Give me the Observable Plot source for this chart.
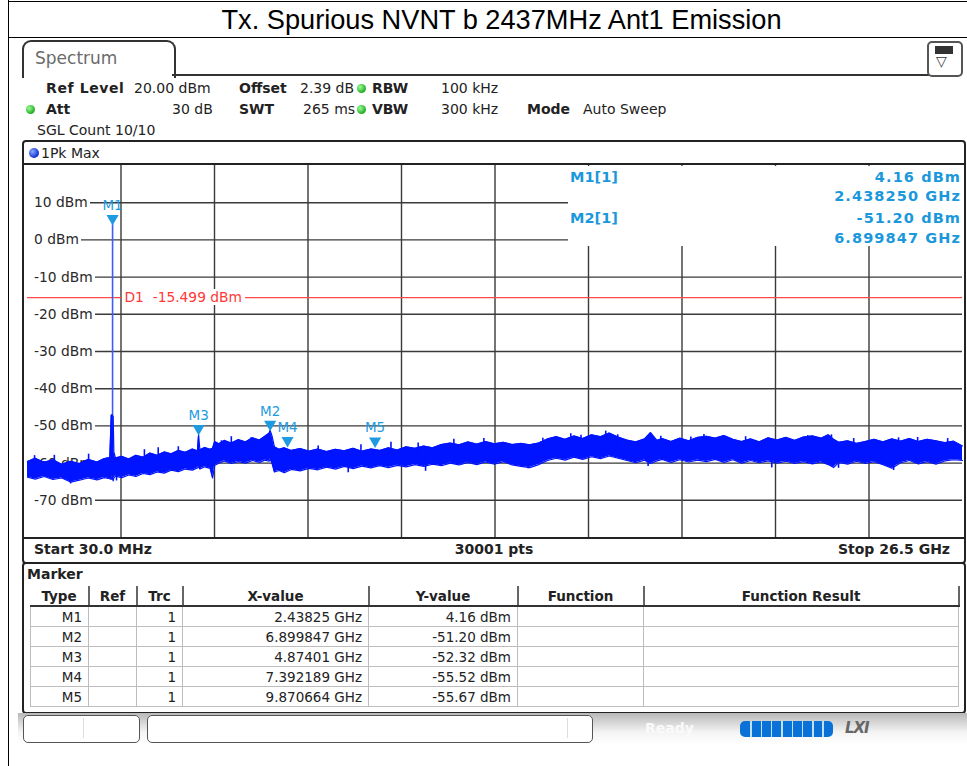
<!DOCTYPE html>
<html><head><meta charset="utf-8">
<script src="https://cdn.jsdelivr.net/npm/d3@7"></script>
<script src="https://cdn.jsdelivr.net/npm/@observablehq/plot@0.6"></script>
<style>
body{margin:0;background:#fff;}
#page{position:relative;width:967px;height:766px;overflow:hidden;font-family:"DejaVu Sans",sans-serif;color:#222;}
.a{position:absolute;white-space:nowrap;}
.b{font-weight:bold;}
.h{font-size:14px;line-height:16px;}
.dot{position:absolute;width:9px;height:9px;border-radius:50%;background:radial-gradient(circle at 35% 35%,#9f9,#2a2 70%);}
.ro{position:absolute;font-weight:bold;font-size:14.5px;color:#1b98dc;line-height:16px;}
.lv{position:absolute;white-space:nowrap;font-size:13.8px;line-height:16px;color:#2a2a2a;background:#fff;padding:0 2px 0 7px;}
table{border-collapse:collapse;font-size:13.5px;table-layout:fixed;width:928px;}
td,th{height:19px;padding:0 6px;border:1px solid #bdbdbd;line-height:18px;overflow:hidden;}
th{border:none;border-bottom:2px solid #333;border-right:2px solid #666;font-weight:bold;text-align:center;}
td{text-align:right;}
</style></head>
<body><div id="page">
<!-- outer frame -->
<div class="a" style="left:8px;top:0;width:1px;height:766px;background:#000"></div>
<div class="a" style="left:8px;top:1px;width:959px;height:1px;background:#000"></div>
<div class="a" style="left:8px;top:37px;width:959px;height:1px;background:#000"></div>
<div class="a" id="title" style="left:22px;top:4px;width:959px;text-align:center;font-family:'Liberation Sans',Arial,sans-serif;font-size:27.2px;line-height:32px;color:#000">Tx. Spurious NVNT b 2437MHz Ant1 Emission</div>

<!-- tab -->
<div class="a" style="left:22px;top:40px;width:150px;height:36px;border:2px solid #333;border-bottom:none;border-radius:9px 9px 0 0;background:#fff"></div>
<div class="a" style="left:35px;top:48px;font-size:17px;color:#6b6b6b;line-height:20px">Spectrum</div>
<div class="a" style="left:172px;top:74px;width:757px;height:2px;background:#333"></div>
<div class="a" style="left:927px;top:41px;width:32px;height:32px;border:2px solid #555;border-radius:5px;background:#fff"></div>
<div class="a" style="left:935px;top:46px;width:16px;height:6px;background:#333;border:1px solid #333"></div>
<div class="a" style="left:936px;top:53px;font-size:14px;color:#333">▽</div>

<!-- header parameters -->
<div class="a h b" style="left:46px;top:80px;letter-spacing:0.6px">Ref Level</div>
<div class="a h" style="left:134px;top:80px">20.00 dBm</div>
<div class="a h b" style="left:239px;top:80px">Offset</div>
<div class="a h" style="left:300px;top:80px">2.39 dB</div>
<div class="dot" style="left:357px;top:84px"></div>
<div class="a h b" style="left:372px;top:80px">RBW</div>
<div class="a h" style="left:441px;top:80px">100 kHz</div>

<div class="dot" style="left:26px;top:105px"></div>
<div class="a h b" style="left:46px;top:101px">Att</div>
<div class="a h" style="left:172px;top:101px">30 dB</div>
<div class="a h b" style="left:239px;top:101px">SWT</div>
<div class="a h" style="left:303px;top:101px">265 ms</div>
<div class="dot" style="left:357px;top:105px"></div>
<div class="a h b" style="left:372px;top:101px">VBW</div>
<div class="a h" style="left:441px;top:101px">300 kHz</div>
<div class="a h b" style="left:527px;top:101px">Mode</div>
<div class="a h" style="left:583px;top:101px">Auto Sweep</div>
<div class="a h" style="left:37px;top:122px">SGL Count 10/10</div>

<!-- graph panel -->
<div class="a" style="left:22px;top:140px;width:940px;height:420px;border:2px solid #222;border-radius:4px;background:#fff"></div>
<div class="a" style="left:29px;top:148px;width:10px;height:10px;border-radius:50%;background:radial-gradient(circle at 35% 35%,#8af,#1030d0 70%)"></div>
<div class="a h" style="left:41px;top:145px">1Pk Max</div>
<div class="a" style="left:24px;top:163px;width:940px;height:2px;background:#222"></div>
<div class="a" id="gridplot" style="left:27px;top:165px;width:935px;height:372px"></div>
<div class="a" id="levels" style="left:27px;top:165px;width:0;height:0"></div>
<div class="a" id="plot" style="left:27px;top:165px;width:935px;height:372px"></div>
<div class="a" style="left:24px;top:537px;width:940px;height:2px;background:#222"></div>
<div class="a h b" style="left:34px;top:541px">Start 30.0 MHz</div>
<div class="a h b" style="left:26px;top:541px;width:936px;text-align:center">30001 pts</div>
<div class="a h b" style="left:26px;top:541px;width:924px;text-align:right">Stop 26.5 GHz</div>
<!-- marker readout -->
<div class="a" style="left:568px;top:166px;width:394px;height:80px;background:#fff"></div>
<div id="readout"></div>

<!-- marker table panel -->
<div class="a" style="left:22px;top:562px;width:940px;height:148px;border:2px solid #222;border-radius:4px;background:#fff"></div>
<div class="a b" style="left:27px;top:566px;font-size:14px">Marker</div>
<div class="a" style="left:30px;top:586px"><table id="mt"></table></div>

<!-- status bar -->
<div class="a" style="left:18px;top:713px;width:949px;height:32px;background:linear-gradient(#b8b8b8,#f4f4f4 60%,#fff)"></div>
<div class="a" style="left:23px;top:715px;width:115px;height:26px;border:1px solid #555;border-radius:5px;background:#fff"></div>
<div class="a" style="left:83px;top:718px;width:1px;height:20px;background:#ddd"></div>
<div class="a" style="left:147px;top:715px;width:444px;height:26px;border:1px solid #555;border-radius:5px;background:#fff"></div>
<div class="a" style="left:567px;top:718px;width:1px;height:20px;background:#ddd"></div>
<div class="a b" style="left:645px;top:720px;font-size:14px;color:#fafafa">Ready</div>
<div class="a" id="bar" style="left:740px;top:721px;width:93px;height:16px;border-radius:5px;background:#0a72d6;overflow:hidden"></div>
<div class="a b" style="left:845px;top:719px;font-size:15px;font-style:italic;color:#666;letter-spacing:-1px">LXI</div>
</div>
<script>
// ---- data ----
const startGHz = 0.03, stopGHz = 26.5;
const refTop = 20, refBottom = -80;
const gridGHz = [0.03, 2.677, 5.324, 7.971, 10.618, 13.265, 15.912, 18.559, 21.206, 23.853, 26.5];
const levelTicks = [10, 0, -10, -20, -30, -40, -50, -60, -70];
const displayLine = -15.499;

const markerNames = ["M1", "M2", "M3", "M4", "M5"];
const markerGHz = [2.43825, 6.899847, 4.87401, 7.392189, 9.870664];
const markerDbm = [4.16, -51.20, -52.32, -55.52, -55.67];
const markerXText = ["2.43825 GHz", "6.899847 GHz", "4.87401 GHz", "7.392189 GHz", "9.870664 GHz"];
const markerYText = ["4.16 dBm", "-51.20 dBm", "-52.32 dBm", "-55.52 dBm", "-55.67 dBm"];

// trace envelope (GHz, upper dBm, lower dBm)
const traceGHz = [0.03,0.25,0.5,0.75,1.0,1.25,1.5,1.75,2.0,2.2,2.36,2.40,2.42,2.455,2.475,2.52,2.7,2.9,3.1,3.3,3.5,3.7,3.9,4.1,4.3,4.5,4.7,4.84,4.874,4.91,5.05,5.2,5.27,5.33,5.45,5.6,5.8,6.0,6.2,6.4,6.6,6.75,6.87,6.9,6.95,7.02,7.15,7.3,7.5,7.75,8.0,8.25,8.5,8.75,9.0,9.25,9.5,9.75,10.0,10.25,10.5,10.75,11.0,11.25,11.5,11.75,12.0,12.25,12.5,12.75,13.0,13.25,13.5,13.75,14.0,14.25,14.5,14.75,15.0,15.25,15.5,15.75,16.0,16.25,16.5,16.75,17.0,17.25,17.5,17.67,17.85,18.0,18.25,18.5,18.75,19.0,19.25,19.5,19.75,20.0,20.25,20.5,20.75,21.0,21.25,21.5,21.75,22.0,22.25,22.5,22.7,22.85,23.0,23.25,23.5,23.75,24.0,24.25,24.5,24.75,25.0,25.25,25.5,25.75,26.0,26.25,26.5];
const traceHigh = [-59.6,-58.7,-59.8,-59.1,-60.3,-59.5,-60.1,-59.0,-59.7,-58.8,-58.5,-47.2,-47.0,-47.5,-57.0,-58.6,-58.2,-58.9,-57.9,-58.4,-57.3,-57.9,-57.0,-57.5,-56.6,-57.1,-56.2,-56.7,-52.3,-56.4,-55.8,-56.3,-56.0,-54.2,-54.8,-53.9,-54.6,-53.7,-54.3,-53.2,-53.8,-52.8,-52.0,-51.2,-52.6,-55.6,-56.3,-55.9,-56.6,-56.1,-56.8,-56.2,-56.9,-56.3,-56.7,-56.0,-56.8,-56.2,-56.6,-55.9,-56.5,-55.6,-56.0,-55.4,-55.9,-55.0,-54.6,-55.1,-54.3,-54.9,-54.2,-54.8,-54.4,-55.0,-54.7,-55.1,-54.6,-53.5,-52.9,-53.6,-52.7,-53.4,-52.4,-52.9,-51.9,-53.0,-53.8,-54.3,-53.5,-51.8,-53.9,-53.4,-54.2,-53.3,-54.0,-53.1,-52.8,-53.3,-52.6,-53.6,-54.2,-53.5,-54.3,-53.2,-53.8,-53.1,-53.9,-53.0,-52.7,-53.3,-52.4,-53.6,-54.4,-54.0,-54.7,-54.2,-53.6,-54.3,-53.5,-54.1,-53.4,-54.2,-53.6,-54.0,-54.5,-54.1,-55.4];
const traceLow = [-63.8,-64.3,-63.6,-64.4,-64.0,-65.1,-64.6,-64.0,-64.5,-63.9,-64.2,-64.4,-63.5,-64.8,-64.0,-63.5,-63.9,-63.2,-63.6,-62.8,-63.1,-62.4,-62.7,-61.9,-62.3,-61.6,-61.9,-61.3,-61.0,-61.6,-61.0,-61.4,-64.0,-60.6,-60.0,-59.4,-60.1,-59.6,-60.0,-59.3,-59.8,-59.2,-59.5,-58.9,-60.0,-62.4,-62.0,-62.6,-61.7,-62.1,-61.4,-61.8,-61.1,-61.6,-60.9,-61.5,-60.8,-61.3,-60.7,-61.2,-60.6,-61.0,-60.4,-60.9,-60.3,-60.7,-60.0,-60.5,-59.8,-60.4,-59.7,-60.3,-59.6,-60.5,-60.9,-61.2,-60.4,-59.3,-58.7,-59.2,-58.4,-59.0,-58.3,-58.8,-58.1,-58.7,-59.3,-59.9,-59.2,-60.1,-59.4,-59.0,-59.8,-59.1,-59.7,-59.2,-59.6,-59.0,-59.8,-59.1,-60.0,-59.3,-59.9,-59.4,-60.0,-59.5,-60.1,-59.6,-60.2,-59.7,-60.4,-61.2,-59.8,-60.3,-59.5,-60.1,-59.6,-60.4,-61.4,-59.9,-59.3,-60.2,-59.6,-60.3,-59.4,-59.1,-59.3];
// isolated noise spikes
const spikeGHz = [0.23,0.79,1.76,3.34,3.73,4.30,5.52,5.80,6.36,8.26,9.47,10.32,11.09,12.1,12.95,14.62,15.41,15.70,16.40,16.74,17.96,18.81,19.18,20.36,22.12,22.79,23.42,24.69,25.23,26.08];
const spikeTop = [-58.0,-57.9,-57.6,-56.4,-55.9,-55.6,-54.0,-52.9,-53.2,-55.4,-55.1,-54.4,-54.6,-53.6,-53.4,-53.3,-52.1,-52.5,-51.4,-52.4,-52.8,-53.0,-52.3,-52.9,-52.6,-52.4,-53.4,-53.2,-53.1,-53.4];
const dipGHz = [1.25,2.55,9.11,11.3,14.2,17.6,21.1,22.99,24.55];
const dipBottom = [-65.6,-64.8,-62.6,-62.2,-61.5,-60.9,-61.3,-61.4,-62.0];

// ---- build ----
const trace = traceGHz.map((f, i) => ({f, hi: traceHigh[i], lo: traceLow[i]}));
const bis = d3.bisector(d => d.f).center;
const near = f => trace[bis(trace, f)];
const spikes = spikeGHz.map((f, i) => ({f, top: spikeTop[i], base: (near(f).hi + near(f).lo) / 2}));
const dips = dipGHz.map((f, i) => ({f, bottom: dipBottom[i], base: (near(f).hi + near(f).lo) / 2}));
const markers = markerNames.map((n, i) => ({n, f: markerGHz[i], v: markerDbm[i]}));
const traceBlue = "#0014ff", markBlue = "#1e9be0", gridCol = "#3a3a3a";

const base = {
  width: 935, height: 372,
  marginLeft: 0, marginRight: 0, marginTop: 0, marginBottom: 0,
  x: {domain: [startGHz, stopGHz], axis: null},
  y: {domain: [refBottom, refTop], axis: null},
  style: {background: "transparent", overflow: "visible"}
};

// layer 1: graticule
const grid = Plot.plot({...base, marks: [
  Plot.ruleX(gridGHz.slice(1, -1), {stroke: gridCol, strokeWidth: 1.4}),
  Plot.ruleY(levelTicks, {stroke: gridCol, strokeWidth: 1.4})
]});
document.getElementById("gridplot").appendChild(grid);
const xs = grid.scale("x"), ys = grid.scale("y");

// layer 2: level labels (white boxes hide the graticule behind them)
const lv = document.getElementById("levels");
levelTicks.forEach(v => {
  const e = document.createElement("div"); e.className = "lv";
  e.style.left = "0px"; e.style.top = (ys.apply(v) - 8) + "px"; e.textContent = `${v} dBm`; lv.appendChild(e);
});

// layer 3: display line, trace and markers
const plot = Plot.plot({...base, marks: [
  Plot.ruleY([displayLine], {stroke: "#ff4a4a", strokeWidth: 1.2}),
  Plot.ruleX([markers[0]], {x: "f", y1: traceLow[12], y2: "v", stroke: "#3c5cff", strokeWidth: 1.6}),
  Plot.areaY(trace, {x: "f", y1: "lo", y2: "hi", fill: traceBlue}),
  Plot.line(trace, {x: "f", y: "hi", stroke: traceBlue, strokeWidth: 1.2}),
  Plot.line(trace, {x: "f", y: "lo", stroke: traceBlue, strokeWidth: 1.2}),
  Plot.ruleX(spikes, {x: "f", y1: "base", y2: "top", stroke: traceBlue, strokeWidth: 1.6}),
  Plot.ruleX(dips, {x: "f", y1: "base", y2: "bottom", stroke: traceBlue, strokeWidth: 1.6}),
  Plot.dot(markers, {x: "f", y: "v", symbol: "triangle", rotate: 180, r: 4.5, fill: markBlue, stroke: "none", dy: -6}),
  Plot.text(markers, {x: "f", y: "v", text: "n", dy: -19, fill: markBlue, fontSize: 13.5, fontFamily: "DejaVu Sans"})
]});
document.getElementById("plot").appendChild(plot);

// display line label
const d1 = document.createElement("div"); d1.className = "lv";
d1.style.color = "#ff3838"; d1.style.padding = "0 3px";
d1.style.left = (27 + xs.apply(gridGHz[1]) + 1) + "px"; d1.style.top = (165 + ys.apply(displayLine) - 8) + "px";
d1.textContent = `D1  ${displayLine.toFixed(3)} dBm`; d1.style.whiteSpace = "pre";
document.getElementById("page").appendChild(d1);

// readout
const ro = document.getElementById("readout");
const roRows = [
  {l: "M1[1]", r: markerYText[0], y: 169},
  {l: "", r: "2.438250 GHz", y: 188},
  {l: "M2[1]", r: markerYText[1], y: 210},
  {l: "", r: markerXText[1], y: 230}
];
roRows.forEach(d => {
  if (d.l) { const e = document.createElement("div"); e.className = "ro"; e.style.left = "570px"; e.style.top = d.y + "px"; e.textContent = d.l; ro.appendChild(e); }
  const e2 = document.createElement("div"); e2.className = "ro"; e2.style.left = "560px"; e2.style.width = "401px"; e2.style.textAlign = "right"; e2.style.letterSpacing = "1.1px"; e2.style.top = d.y + "px"; e2.textContent = d.r; ro.appendChild(e2);
});
document.getElementById("page").appendChild(ro);

// marker table
const cols = [["Type",58],["Ref",48],["Trc",46],["X-value",186],["Y-value",149],["Function",126],["Function Result",315]];
const t = document.getElementById("mt");
let html = "<colgroup>" + cols.map(c => `<col style="width:${c[1]}px">`).join("") + "</colgroup>";
html += "<tr>" + cols.map(c => `<th>${c[0]}</th>`).join("") + "</tr>";
markerNames.forEach((n, i) => {
  html += `<tr><td>${n}</td><td></td><td>1</td><td>${markerXText[i]}</td><td>${markerYText[i]}</td><td></td><td></td></tr>`;
});
t.innerHTML = html;

// status progress bar segments
const bar = document.getElementById("bar");
for (let k = 1; k < 9; k++) { const s = document.createElement("div"); s.className = "a"; s.style.left = (k * 10.3) + "px"; s.style.top = "0"; s.style.width = "1.5px"; s.style.height = "16px"; s.style.background = "#bfe0ff"; bar.appendChild(s); }
</script>
</body></html>
